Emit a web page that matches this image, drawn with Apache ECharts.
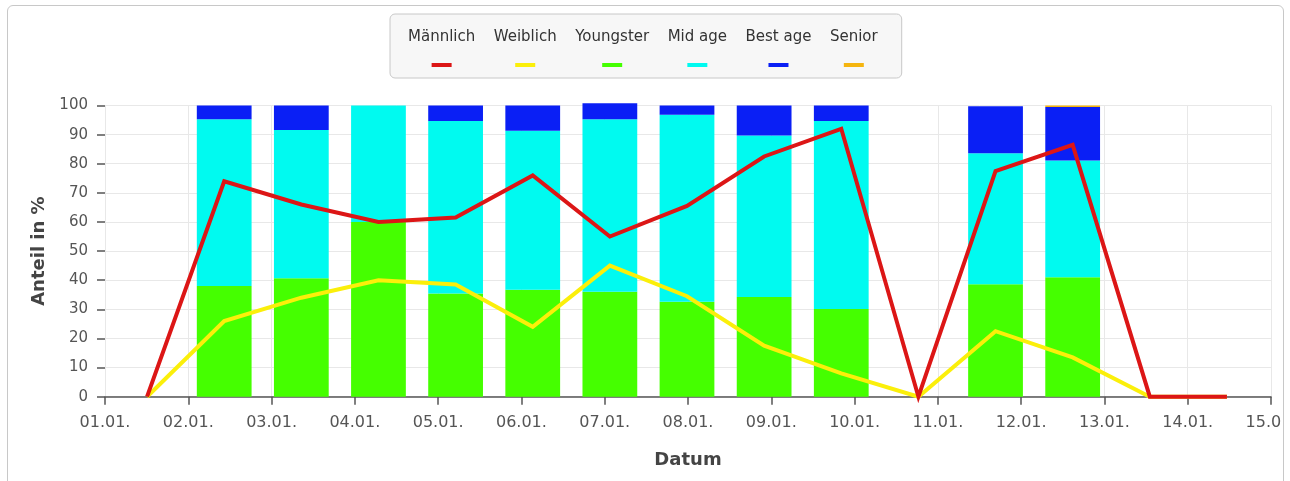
<!DOCTYPE html>
<html>
<head>
<meta charset="utf-8">
<script src="https://cdn.jsdelivr.net/npm/echarts@6/dist/echarts.min.js"></script>
<style>
html, body { margin: 0; padding: 0; width: 1290px; height: 481px; overflow: hidden; background: #fff; }
#frame { position: absolute; left: 7px; top: 5px; width: 1277px; height: 540px; border: 1px solid #c8c8c8; border-radius: 6px; overflow: hidden; box-sizing: border-box; }
#chart { position: absolute; left: -8px; top: -6px; width: 1290px; height: 481px; }
</style>
</head>
<body>
<div id="frame"><div id="chart"></div></div>
<script>
// ---- data ----
const tickLabels = ['01.01.', '02.01.', '03.01.', '04.01.', '05.01.', '06.01.', '07.01.', '08.01.', '09.01.', '10.01.', '11.01.', '12.01.', '13.01.', '14.01.', '15.01.'];
const slots = ['S1', 'S2', 'S3', 'S4', 'S5', 'S6', 'S7', 'S8', 'S9', 'S10', 'S11', 'S12', 'S13', 'S14', 'S15'];
const maennlich = [0, 74, 66, 60, 61.5, 76, 55, 65.5, 82.5, 92, 0, 77.5, 86.5, 0, 0];
const weiblich  = [0, 26, 34, 40, 38.5, 24, 45, 34.5, 17.5, 8, 0, 22.5, 13.5, 0, 0];
const youngster = [0, 38, 40.7, 60, 35.4, 36.7, 36, 32.6, 34.2, 30.1, 0, 38.6, 41, 0, 0];
const midAge    = [0, 57.3, 50.9, 40, 59.3, 54.6, 59.3, 64.2, 55.5, 64.6, 0, 45, 40.1, 0, 0];
const bestAge   = [0, 4.7, 8.4, 0, 5.3, 8.7, 5.5, 3.2, 10.3, 5.3, 0, 16.1, 18.4, 0, 0];
const senior    = [0, 0, 0, 0, 0, 0, 0, 0, 0, 0, 0, 0, 0.5, 0, 0];

const names = ['Männlich', 'Weiblich', 'Youngster', 'Mid age', 'Best age', 'Senior'];
const colors = ['#dc1616', '#fbef0a', '#45ff00', '#00faf0', '#0a1ff5', '#f5b50f'];

const FONT = 'DejaVu Sans';
const rich = {
  t: { fontFamily: FONT, fontSize: 15, color: '#333', lineHeight: 36, align: 'center' }
};
colors.forEach((c, i) => {
  rich['c' + i] = { backgroundColor: c, width: 20, height: 4, lineHeight: 20, align: 'center' };
});

const chart = echarts.init(document.getElementById('chart'), null, { renderer: 'canvas' });

const barCommon = {
  type: 'bar', stack: 'age', xAxisIndex: 1, yAxisIndex: 1, barWidth: '71%', clip: false
};

chart.setOption({
  animation: false,
  textStyle: { fontFamily: FONT },
  legend: {
    data: names,
    left: 390, top: 14,
    orient: 'horizontal',
    icon: 'none',
    itemWidth: 0, itemHeight: 56,
    itemGap: 13.5,
    padding: [5, 24, 7, 13],
    backgroundColor: '#f7f7f7',
    borderColor: '#c8c8c8',
    borderWidth: 1,
    borderRadius: 5,
    formatter: function (name) {
      return '{t|' + name + '}\n{c' + names.indexOf(name) + '|}';
    },
    textStyle: { rich: rich, color: '#333' }
  },
  grid: [
    { left: 105, right: 19, top: 105.5, height: 291.2, outerBoundsMode: 'none', containLabel: false },
    { left: 108.5, right: 24.5, top: 105.5, height: 291.2, outerBoundsMode: 'none', containLabel: false }
  ],
  xAxis: [
    {
      gridIndex: 0, type: 'category', data: tickLabels, boundaryGap: false,
      axisLine: { lineStyle: { color: '#555', width: 1.5 } },
      axisTick: { show: true, length: 8, interval: 0, lineStyle: { color: '#555', width: 1.5 } },
      axisLabel: { interval: 0, fontFamily: FONT, fontSize: 16, color: '#555', margin: 18, hideOverlap: false },
      splitLine: { show: true, interval: 0, lineStyle: { color: '#e8e8e8', width: 1 } },
      name: 'Datum', nameLocation: 'middle', nameGap: 55,
      nameTextStyle: { fontFamily: FONT, fontSize: 18, fontWeight: 'bold', color: '#444' }
    },
    {
      gridIndex: 1, type: 'category', data: slots, boundaryGap: true, show: false
    }
  ],
  yAxis: [
    {
      gridIndex: 0, type: 'value', min: 0, max: 100, interval: 10,
      axisLine: { show: false },
      axisTick: { show: true, length: 8, lineStyle: { color: '#555', width: 1.5 } },
      axisLabel: { fontFamily: FONT, fontSize: 15, color: '#555', margin: 17 },
      splitLine: { show: true, lineStyle: { color: '#e8e8e8', width: 1 } },
      name: 'Anteil in %', nameLocation: 'middle', nameGap: 57, nameRotate: 90,
      nameTextStyle: { fontFamily: FONT, fontSize: 18, fontWeight: 'bold', color: '#444' }
    },
    { gridIndex: 1, type: 'value', min: 0, max: 100, show: false }
  ],
  series: [
    Object.assign({ name: 'Youngster', data: youngster, itemStyle: { color: colors[2] } }, barCommon),
    Object.assign({ name: 'Mid age', data: midAge, itemStyle: { color: colors[3] } }, barCommon),
    Object.assign({ name: 'Best age', data: bestAge, itemStyle: { color: colors[4] } }, barCommon),
    Object.assign({ name: 'Senior', data: senior, itemStyle: { color: colors[5] } }, barCommon),
    {
      name: 'Weiblich', type: 'line', data: weiblich, xAxisIndex: 1, yAxisIndex: 1,
      symbol: 'none', showSymbol: false, clip: false,
      itemStyle: { color: colors[1] }, lineStyle: { color: colors[1], width: 4, join: 'miter' }
    },
    {
      name: 'Männlich', type: 'line', data: maennlich, xAxisIndex: 1, yAxisIndex: 1,
      symbol: 'none', showSymbol: false, clip: false,
      itemStyle: { color: colors[0] }, lineStyle: { color: colors[0], width: 4, join: 'miter' }
    }
  ]
});
</script>
</body>
</html>
